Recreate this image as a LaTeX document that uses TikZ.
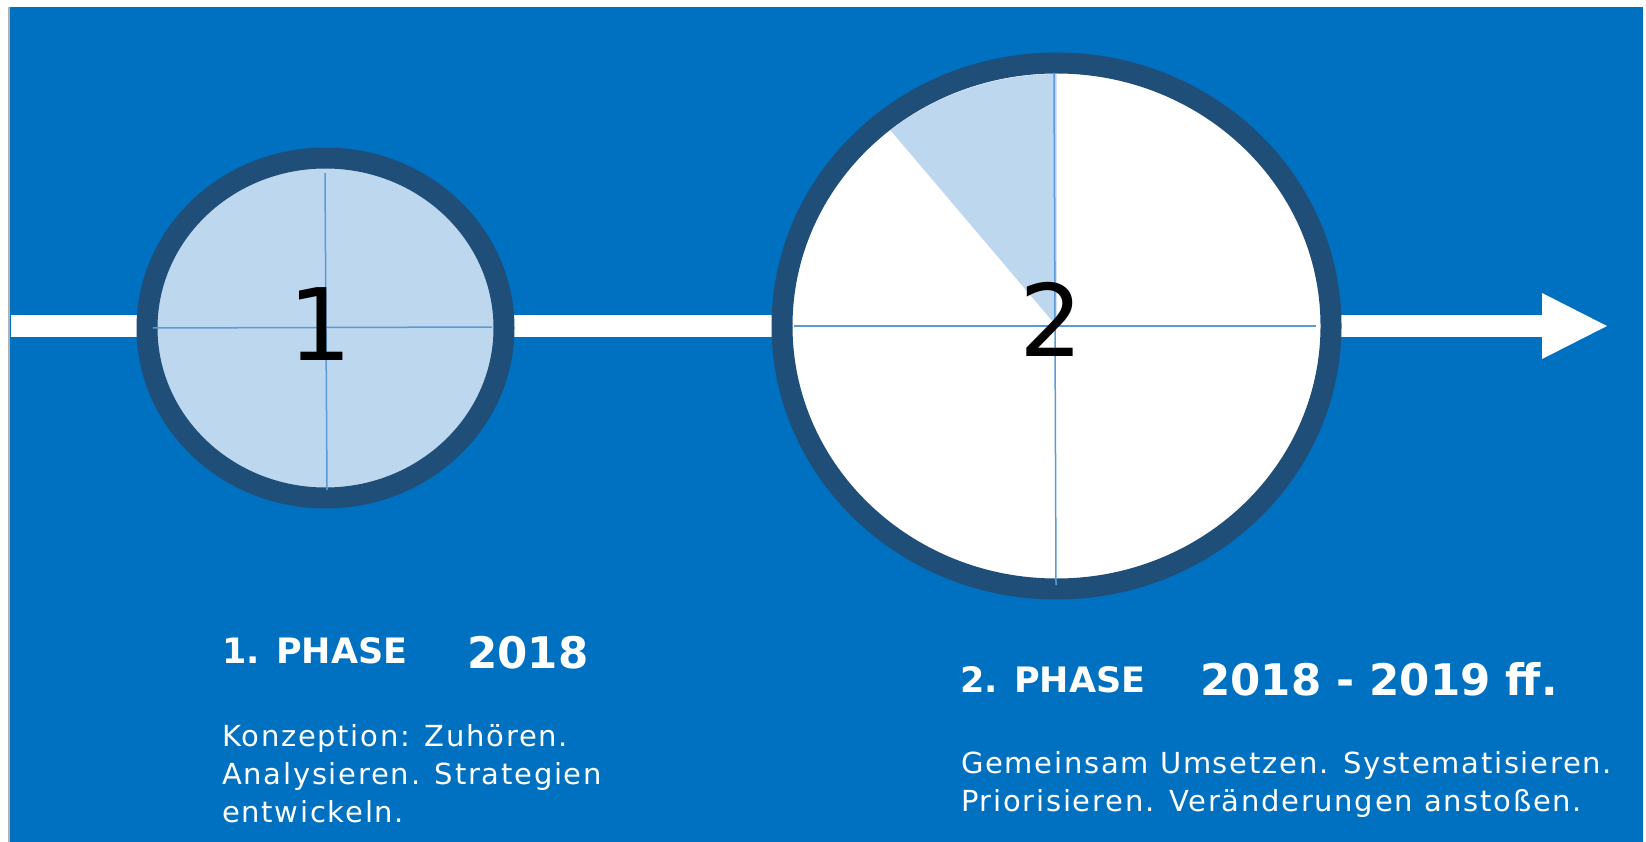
\documentclass[tikz,border=0pt]{standalone}
\usepackage{fontspec}
\setmainfont{DejaVu Sans}
\newfontfamily\bodyfont[LetterSpace=6]{DejaVu Sans}
\definecolor{bgblue}{HTML}{0070C0}
\definecolor{ringblue}{HTML}{1F4E79}
\definecolor{paleblue}{HTML}{BDD7EE}
\definecolor{crossblue}{HTML}{5B9BD5}
\begin{document}
\begin{tikzpicture}[x=1pt,y=-1pt,
	ring/.style={draw=ringblue, line width=21pt},
	cross/.style={crossblue, line width=1.5pt},
	bar/.style={white, line width=22pt},
	digit/.style={font=\fontsize{100}{100}\selectfont, inner sep=0pt, anchor=base},
	phase/.style={font=\bfseries\fontsize{35}{40}\selectfont, white, inner sep=0pt, anchor=base west},
	year/.style={font=\bfseries\fontsize{43.5}{48}\selectfont, white, inner sep=0pt, anchor=base west},
	body/.style={font=\bodyfont\fontsize{29}{38}\selectfont, white, align=left, inner sep=0pt, anchor=base west}]
	
	\useasboundingbox (0,0) rectangle (1646,842);
	\fill[white] (0,0) rectangle (1646,842);
	\fill[bgblue] (10,7) rectangle (1643,842); % panel
	\fill[black!30] (8,7) rectangle (10,842);
	
	\coordinate (start) at (11,326);
	\coordinate (hb) at (1542,326);
	\coordinate (tip) at (1607,326);
	\coordinate (c1) at (325.5,328);
	\coordinate (c2) at (1056.5,326);
	
	\draw[bar] (start) -- (hb); % time line
	\fill[white] (1542,293) -- (tip) -- (1542,359) -- cycle;
	
	\draw[ring, fill=paleblue] (c1) ellipse [x radius=178.5, y radius=170]; % phase 1
	\draw[ring, fill=white] (c2) ellipse [x radius=274.5, y radius=263]; % phase 2
	\fill[paleblue] (c2) -- ++(0,-252) arc [start angle=-90, end angle=-129, x radius=264, y radius=252] -- cycle;
	
	\draw[cross] (325,173) -- (327,490);
	\draw[cross] (153,328) -- (492,327);
	\draw[cross] (1054,73) -- (1056,585);
	\draw[cross] (794,326) -- (1316,326);
	
	\node[digit] (d1) at (320,360) {1};
	\node[digit] (d2) at (1051.5,356) {2};
	
	% base of a text block = its last line
	\node[phase] (ph1) at (222,663) {1. PHASE};
	\node[year] (yr1) at (467,668) {2018};
	\node[body] (tx1) at (222,822) {Konzeption: Zuhören.\\Analysieren. Strategien\\entwickeln.};
	
	\node[phase] (ph2) at (960,692) {2. PHASE};
	\node[year] (yr2) at (1200,695) {2018 - 2019 ff.};
	\node[body] (tx2) at (961,811) {Gemeinsam Umsetzen. Systematisieren.\\Priorisieren. Veränderungen anstoßen.};
	
\end{tikzpicture}
\end{document}
